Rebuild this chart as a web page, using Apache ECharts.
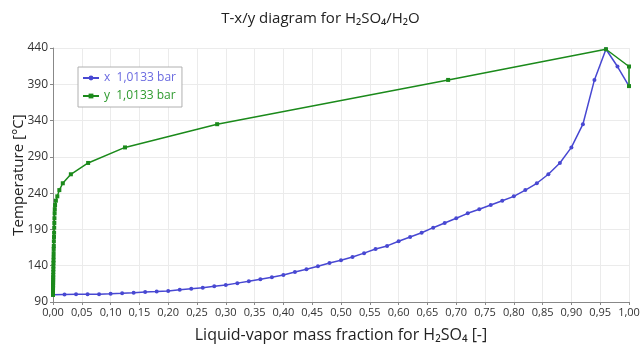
<!DOCTYPE html>
<html>
<head>
<meta charset="utf-8">
<script src="https://cdn.jsdelivr.net/npm/echarts@6/dist/echarts.min.js"></script>
<style>html,body{margin:0;padding:0;background:#fff}#c{width:641px;height:345px}</style>
</head>
<body>
<div id="c"></div>
<script>
// Liquid mass fraction of H2SO4 (x) for each computed point
const liquidX = [0.00,0.02,0.04,0.06,0.08,0.10,0.12,0.14,0.16,0.18,
  0.20,0.22,0.24,0.26,0.28,0.30,0.32,0.34,0.36,0.38,
  0.40,0.42,0.44,0.46,0.48,0.50,0.52,0.54,0.56,0.58,
  0.60,0.62,0.64,0.66,0.68,0.70,0.72,0.74,0.76,0.78,
  0.80,0.82,0.84,0.86,0.88,0.90,0.92,0.94,0.96,0.98,1.00];
// Boiling temperature [°C] at each point
const temperature = [100.0,100.5,100.6,100.6,100.7,101.3,102.0,102.8,103.8,104.5,
  105.3,107.0,108.4,109.7,111.6,113.4,116.0,118.5,121.3,124.1,
  127.2,131.3,135.1,139.2,143.8,147.4,152.0,157.3,163.1,167.3,
  173.7,179.6,185.5,192.4,198.9,205.4,212.2,217.8,223.6,229.6,
  235.6,244.2,253.6,266.0,281.6,303.0,335.0,396.0,438.3,414.5,387.5];
// Vapor mass fraction of H2SO4 (y) in equilibrium
const vaporY = [0.0000,0.0000,0.0000,0.0000,0.0000,0.0000,0.0000,0.0000,0.0000,0.0000,
  0.0000,0.0000,0.0000,0.0001,0.0001,0.0001,0.0002,0.0002,0.0003,0.0003,
  0.0004,0.0005,0.0006,0.0007,0.0008,0.0009,0.0010,0.0011,0.0012,0.0014,
  0.0015,0.0017,0.0019,0.0021,0.0023,0.0025,0.0028,0.0031,0.0036,0.0050,
  0.0075,0.0110,0.0170,0.0310,0.0610,0.1250,0.2850,0.6860,0.9600,1.0000,1.0000];
const seriesNames = ['x  1,0133 bar', 'y  1,0133 bar'];

const blue = '#4848d2';
const green = '#1b8a1b';
const font = 'Open Sans';

const chart = echarts.init(document.getElementById('c'), null, {renderer: 'canvas'});
chart.setOption({
  animation: false,
  backgroundColor: '#ffffff',
  title: {
    text: 'T-x/y diagram for H₂SO₄/H₂O',
    left: 'center',
    top: 6,
    textStyle: {fontFamily: font, fontSize: 15, fontWeight: 'normal', color: '#222'}
  },
  legend: {
    orient: 'vertical',
    left: 78, top: 67,
    backgroundColor: '#fff',
    borderColor: '#b0b0b0', borderWidth: 1,
    padding: [5, 6, 5, 4],
    itemGap: 6,
    itemWidth: 16, itemHeight: 6,
    textStyle: {fontFamily: font, fontSize: 12},
    data: [
      {name: seriesNames[0], textStyle: {color: '#6a6ae0'}},
      {name: seriesNames[1], textStyle: {color: '#2e9a2e'}}
    ]
  },
  grid: {left: 53, right: 12, top: 48, bottom: 43, containLabel: false, outerBoundsMode: 'none'},
  xAxis: {
    type: 'value', min: 0, max: 1, interval: 0.05,
    name: 'Liquid-vapor mass fraction for H₂SO₄ [-]',
    nameLocation: 'middle', nameGap: 25, nameMoveOverlap: false,
    nameTextStyle: {fontFamily: font, fontSize: 16, color: '#222'},
    axisLine: {show: true, lineStyle: {color: '#888', width: 1}},
    axisTick: {show: true, length: 3, lineStyle: {color: '#888'}},
    axisLabel: {fontFamily: font, fontSize: 11, color: '#333', margin: 5,
      formatter: v => v.toFixed(2).replace('.', ',')},
    splitLine: {show: true, lineStyle: {color: '#ebebeb', width: 1}}
  },
  yAxis: {
    type: 'value', min: 90, max: 440, interval: 50,
    name: 'Temperature [°C]',
    nameLocation: 'middle', nameGap: 27, nameRotate: 90, nameMoveOverlap: false,
    nameTextStyle: {fontFamily: font, fontSize: 15, color: '#222'},
    axisLine: {show: true, lineStyle: {color: '#888', width: 1}},
    axisTick: {show: true, length: 3, lineStyle: {color: '#888'}},
    axisLabel: {fontFamily: font, fontSize: 12, color: '#333', margin: 5},
    splitLine: {show: true, lineStyle: {color: '#ebebeb', width: 1}}
  },
  series: [
    {
      name: seriesNames[0], type: 'line',
      data: liquidX.map((x, i) => [x, temperature[i]]),
      symbol: 'circle', symbolSize: 4, showSymbol: true,
      lineStyle: {color: blue, width: 1.5},
      itemStyle: {color: blue}
    },
    {
      name: seriesNames[1], type: 'line',
      data: vaporY.map((y, i) => [y, temperature[i]]),
      symbol: 'rect', symbolSize: 4, showSymbol: true,
      lineStyle: {color: green, width: 1.5},
      itemStyle: {color: green}
    }
  ]
});
</script>
</body>
</html>
